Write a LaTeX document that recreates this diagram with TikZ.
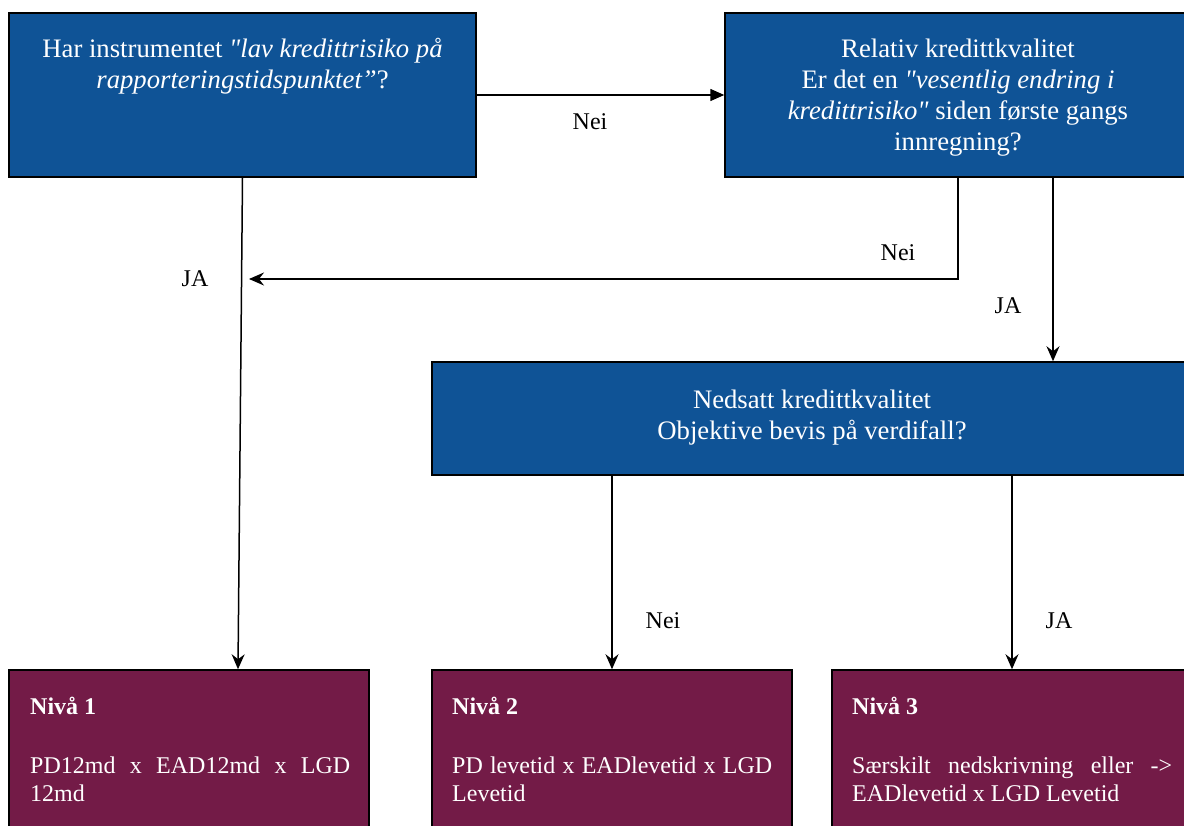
\documentclass[tikz,border=0pt]{standalone}
\usepackage{fontspec}
\setmainfont{Liberation Serif}[Ligatures=TeXOff]
\usetikzlibrary{arrows.meta}
\definecolor{boxblue}{RGB}{15,83,150}
\definecolor{boxpurple}{RGB}{115,27,71}
\newcommand\topsize{\fontsize{26.7}{31}\selectfont}
\newcommand\botsize{\fontsize{24}{28}\selectfont}
\begin{document}
\begin{tikzpicture}[x=1pt,y=-1pt,
  bluebox/.style={draw=black, line width=1.5pt, fill=boxblue, inner sep=0pt},
  redbox/.style={draw=black, line width=1.5pt, fill=boxpurple, inner sep=0pt, minimum width=360pt, minimum height=180pt},
  toptext/.style={text=white, font=\topsize, align=center, inner sep=0pt},
  bottext/.style={text=white, font=\botsize, text width=320pt, align=justify, inner sep=0pt, anchor=north west},
  lbl/.style={font=\botsize, inner sep=0pt},
  arr/.style={line width=1.5pt, -{Stealth[length=15pt,width=13pt,inset=5pt]}},
  arrtri/.style={line width=1.5pt, -{Triangle[length=14pt,width=12pt]}}]
\clip (0,0) rectangle (1184,826);
% boxes
\node[bluebox, minimum width=467pt, minimum height=164pt] (b1) at (242.5,95) {};
\node[bluebox, minimum width=466pt, minimum height=164pt] (b2) at (958,95) {};
\node[bluebox, minimum width=760pt, minimum height=113pt] (b3) at (812,418.5) {};
\node[redbox] (n1) at (189,760) {};
\node[redbox] (n2) at (612,760) {};
\node[redbox] (n3) at (1012,760) {};
% texts
\node[toptext] (t1) at (242.5,66.5) {Har instrumentet \textit{"lav kredittrisiko på}\\\textit{rapporteringstidspunktet”}?};
\node[toptext] (t2) at (958,97.5) {Relativ kredittkvalitet\\Er det en \textit{"vesentlig endring i}\\\textit{kredittrisiko"} siden første gangs\\innregning?};
\node[toptext] (t3) at (812,418) {Nedsatt kredittkvalitet\\Objektive bevis på verdifall?};
\node[bottext] (m1) at (30,697) {\textbf{Nivå 1}\\[31pt]PD12md x EAD12md x LGD 12md};
\node[bottext] (m2) at (452,697) {\textbf{Nivå 2}\\[31pt]PD levetid x EADlevetid x LGD Levetid};
\node[bottext] (m3) at (852,697) {\textbf{Nivå 3}\\[31pt]Særskilt nedskrivning eller -> EADlevetid x LGD Levetid};
% labels
\node[lbl] (l1) at (590,122) {Nei};
\node[lbl] (l2) at (195,279) {JA};
\node[lbl] (l3) at (898,253) {Nei};
\node[lbl] (l4) at (1008,306) {JA};
\node[lbl] (l5) at (663,621) {Nei};
\node[lbl] (l6) at (1059,621) {JA};
% connectors
\coordinate (jn) at (249,279);
\draw[arrtri] (b1.east) -- (b2.west);
\draw[arr] (b1.south) -- ([xshift=49pt]n1.north);
\draw[arr] (b2.south) |- (jn);
\draw[arr] ([xshift=95pt]b2.south) -- ([xshift=241pt]b3.north);
\draw[arr] ([xshift=-200pt]b3.south) -- (n2.north);
\draw[arr] ([xshift=200pt]b3.south) -- (n3.north);
\end{tikzpicture}
\end{document}
